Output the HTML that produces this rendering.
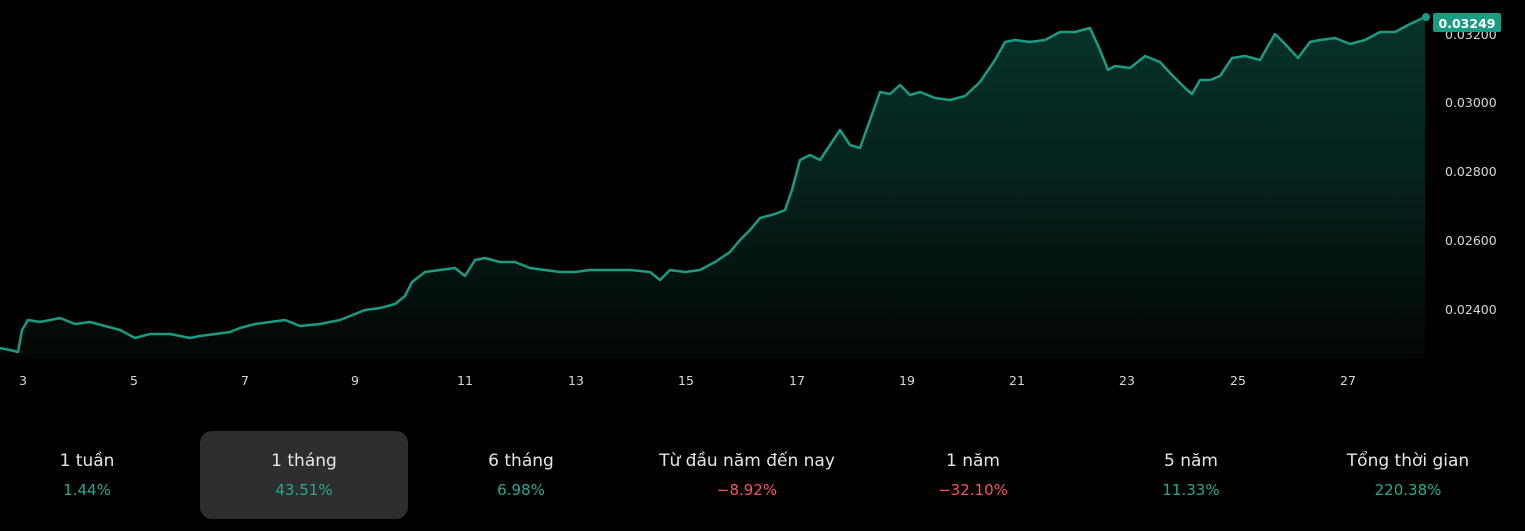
<!DOCTYPE html>
<html><head><meta charset="utf-8"><style>
body{margin:0;background:#000;width:1525px;height:531px;overflow:hidden;font-family:"DejaVu Sans","Liberation Sans",sans-serif;}
.tab{position:absolute;top:431px;height:88px;width:208px;text-align:center;}
.t{position:absolute;top:20px;width:100%;font-size:17px;color:#e6e6e6;}
.v{position:absolute;top:50px;width:100%;font-size:15px;}
.g{color:#22ab94}.r{color:#f7525f}
</style></head><body>
<svg width="1525" height="400" style="position:absolute;left:0;top:0">
<defs><linearGradient id="gr" x1="0" y1="0" x2="0" y2="1">
<stop offset="0" stop-color="#07332a"/><stop offset="0.5" stop-color="#05201b"/><stop offset="1" stop-color="#030605"/></linearGradient></defs>
<polygon fill="url(#gr)" points="0,358 0,348 10,350 18,352 22,330 28,320 40,322 60,318 75,324 90,322 105,326 120,330 135,338 150,334 170,334 190,338 200,336 215,334 230,332 240,328 255,324 270,322 285,320 300,326 320,324 340,320 355,314 365,310 380,308 395,304 405,296 412,282 425,272 440,270 455,268 465,276 475,260 485,258 500,262 515,262 530,268 545,270 560,272 575,272 590,270 610,270 630,270 650,272 660,280 670,270 685,272 700,270 715,262 730,252 740,240 750,230 760,218 775,214 785,210 792,190 800,160 810,155 820,160 830,145 840,130 850,145 860,148 870,120 880,92 890,94 900,85 910,95 920,92 935,98 950,100 965,96 980,82 995,60 1005,42 1015,40 1030,42 1045,40 1060,32 1075,32 1090,28 1100,50 1108,70 1115,66 1130,68 1145,56 1160,62 1172,75 1185,88 1192,94 1200,80 1210,80 1220,76 1232,58 1245,56 1260,60 1275,34 1285,44 1298,58 1310,42 1320,40 1335,38 1350,44 1365,40 1380,32 1395,32 1410,24 1425,17 1425,358"/>
<polyline fill="none" stroke="#1a9c82" stroke-width="2.5" stroke-linejoin="round" points="0,348 10,350 18,352 22,330 28,320 40,322 60,318 75,324 90,322 105,326 120,330 135,338 150,334 170,334 190,338 200,336 215,334 230,332 240,328 255,324 270,322 285,320 300,326 320,324 340,320 355,314 365,310 380,308 395,304 405,296 412,282 425,272 440,270 455,268 465,276 475,260 485,258 500,262 515,262 530,268 545,270 560,272 575,272 590,270 610,270 630,270 650,272 660,280 670,270 685,272 700,270 715,262 730,252 740,240 750,230 760,218 775,214 785,210 792,190 800,160 810,155 820,160 830,145 840,130 850,145 860,148 870,120 880,92 890,94 900,85 910,95 920,92 935,98 950,100 965,96 980,82 995,60 1005,42 1015,40 1030,42 1045,40 1060,32 1075,32 1090,28 1100,50 1108,70 1115,66 1130,68 1145,56 1160,62 1172,75 1185,88 1192,94 1200,80 1210,80 1220,76 1232,58 1245,56 1260,60 1275,34 1285,44 1298,58 1310,42 1320,40 1335,38 1350,44 1365,40 1380,32 1395,32 1410,24 1425,17"/>
<circle cx="1426" cy="17" r="4" fill="#1a9c82"/>
<g font-size="12.5" fill="#d8d8d8" font-family="DejaVu Sans,sans-serif">
<text x="1445" y="39">0.03200</text><text x="1445" y="107">0.03000</text>
<text x="1445" y="176">0.02800</text><text x="1445" y="245">0.02600</text>
<text x="1445" y="314">0.02400</text>
<g text-anchor="middle"><text x="23" y="385">3</text><text x="134" y="385">5</text><text x="245" y="385">7</text><text x="355" y="385">9</text><text x="465" y="385">11</text><text x="576" y="385">13</text><text x="686" y="385">15</text><text x="797" y="385">17</text><text x="907" y="385">19</text><text x="1017" y="385">21</text><text x="1127" y="385">23</text><text x="1238" y="385">25</text><text x="1348" y="385">27</text></g>
</g>
<rect x="1433" y="13" width="68" height="19" rx="2" fill="#1a9c82"/>
<text x="1467" y="28" text-anchor="middle" font-size="12.5" font-weight="bold" fill="#fff" font-family="DejaVu Sans,sans-serif">0.03249</text>
</svg>
<div class="tab" style="left:-17px"><div class="t">1 tuần</div><div class="v g">1.44%</div></div>
<div class="tab" style="left:200px;background:#2e2e2e;border-radius:12px"><div class="t">1 tháng</div><div class="v g">43.51%</div></div>
<div class="tab" style="left:417px"><div class="t">6 tháng</div><div class="v g">6.98%</div></div>
<div class="tab" style="left:623px;width:248px"><div class="t">Từ đầu năm đến nay</div><div class="v r">−8.92%</div></div>
<div class="tab" style="left:869px"><div class="t">1 năm</div><div class="v r">−32.10%</div></div>
<div class="tab" style="left:1087px"><div class="t">5 năm</div><div class="v g">11.33%</div></div>
<div class="tab" style="left:1304px"><div class="t">Tổng thời gian</div><div class="v g">220.38%</div></div>
</body></html>
